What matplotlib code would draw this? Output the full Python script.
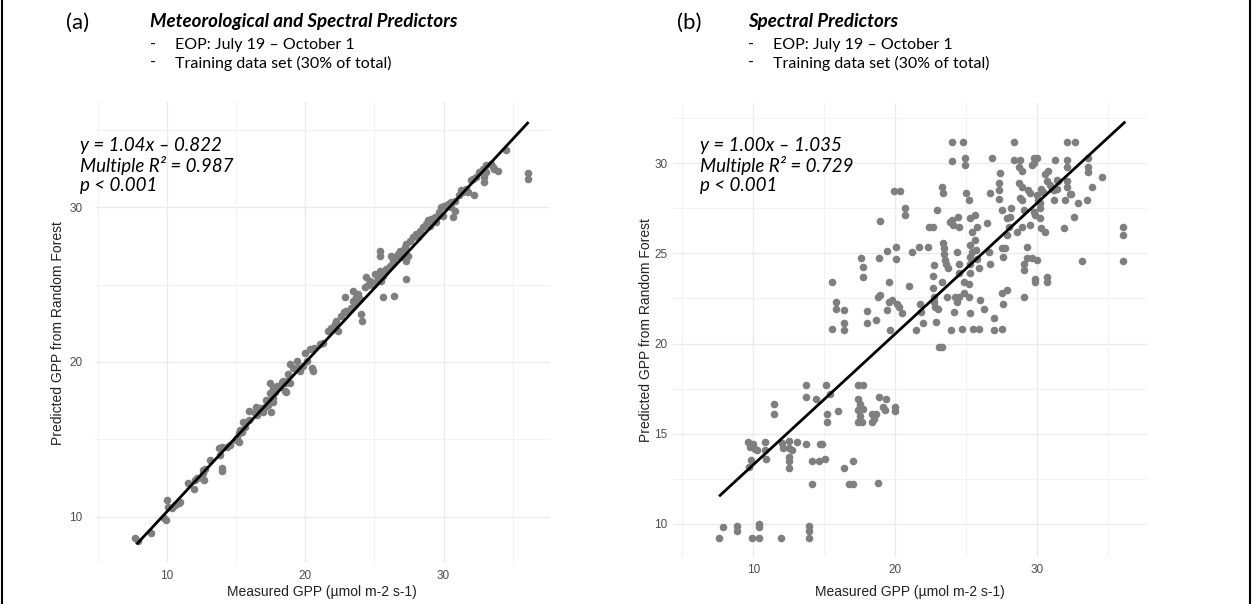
import matplotlib
matplotlib.use('Agg')
import matplotlib.pyplot as plt
from matplotlib.lines import Line2D

W, H = 1252, 604

# (a) meteorological + spectral predictors, training set
meas_a = [7.67, 7.88, 8.87, 9.76, 9.95, 10.0, 10.1, 10.36, 10.6, 10.84, 10.96,
          11.5, 12.0, 12.16, 11.97, 12.52, 12.6, 12.64, 12.76, 12.7,
          13.13, 13.73, 13.85, 13.97, 13.97, 13.97, 14.33, 14.57,
          15.0, 15.1, 15.2, 15.3, 15.4, 15.2, 15.5, 15.65, 15.96, 15.9,
          16.37, 16.49, 16.44, 16.73, 16.97, 17.09, 17.33,
          17.2, 17.45, 17.57, 17.69, 17.81, 17.5, 17.69, 17.93, 18.17,
          18.3, 18.53, 18.65, 18.6, 18.9,
          17.45, 17.69, 17.57, 17.93, 18.41, 18.65, 18.53,
          18.77, 18.9, 19.13, 19.38, 19.5, 19.62, 19.86, 20.1, 20.46, 20.53,
          19.98, 20.34, 20.63, 21.06, 21.3,
          21.66, 21.9, 22.14, 22.26, 22.38,
          22.62, 22.79, 22.98, 22.86, 23.34, 23.46, 23.58,
          23.46, 23.7, 23.94, 24.06, 24.14, 23.82,
          24.3, 24.54, 24.66, 24.42, 24.9, 25.14,
          25.02, 25.26, 25.5, 25.38, 25.62, 25.74,
          25.38, 25.38, 25.62, 26.4,
          25.86, 26.1, 26.35, 26.23, 26.47, 26.7, 26.83, 26.95, 27.07,
          27.19, 27.3, 27.55, 27.3, 27.26, 27.43,
          27.79, 28.03, 28.27, 28.15, 28.5, 28.75,
          28.87, 29.1, 28.99, 29.35, 29.47, 29.6, 29.7,
          29.83, 30.07, 30.31, 30.55, 30.8, 29.95, 30.67, 30.8, 30.55,
          31.15, 31.4, 31.27, 31.63, 31.75, 32.23,
          32.0, 32.36, 32.1, 32.6, 32.84, 32.96, 33.08, 32.96,
          33.08, 33.44, 33.56, 33.68, 33.92, 34.52, 36.08, 36.08]
pred_a = [8.6, 8.43, 8.97, 9.9, 9.78, 11.08, 10.65, 10.54, 10.75, 10.9, 10.97,
          12.16, 12.37, 12.48, 11.77, 12.48, 13.0, 12.8, 13.1, 12.37,
          13.66, 14.42, 13.99, 14.53, 12.97, 13.12, 14.53, 14.63,
          14.96, 15.06, 15.39, 15.6, 15.5, 14.85, 16.14, 15.82, 16.25, 16.8,
          16.68, 16.57, 17.11, 17.0, 16.79, 17.11, 17.22,
          17.54, 17.97, 17.76, 17.43, 18.08, 16.79, 17.65, 18.3, 18.4,
          18.73, 18.62, 18.73, 18.08, 18.62,
          18.66, 18.34, 17.9, 18.45, 18.77, 18.77, 18.12,
          19.2, 19.85, 19.63, 20.07, 19.63, 19.42, 19.74, 20.07, 19.63, 19.42,
          20.6, 20.82, 20.93, 21.15, 21.25,
          22.0, 22.2, 22.44, 22.66, 22.0,
          22.98, 23.2, 23.3, 24.17, 23.5, 23.95, 23.74,
          24.6, 24.17, 24.06, 23.1, 22.66, 24.4,
          24.82, 25.0, 25.24, 25.46, 25.0, 25.14,
          25.68, 25.46, 25.24, 25.9, 25.57, 25.8,
          27.2, 26.87, 24.17, 24.28,
          26.0, 26.22, 26.55, 26.87, 26.76, 26.98, 27.2, 26.76, 27.1,
          27.41, 27.62, 27.84, 26.54, 25.36, 26.87,
          28.06, 28.27, 28.49, 28.06, 28.7, 28.92,
          29.14, 29.24, 28.81, 29.35, 29.03, 29.46, 29.68,
          30.0, 30.1, 30.2, 30.32, 30.43, 29.46, 29.35, 29.78, 30.0,
          30.76, 30.97, 31.08, 31.19, 30.97, 30.76,
          31.73, 31.94, 31.84, 32.27, 32.48, 31.94, 32.27, 31.62,
          32.7, 32.8, 32.6, 32.48, 32.37, 33.67, 32.2, 31.8]

# (b) spectral predictors only, training set
meas_b = [15.53, 15.84, 15.84, 16.4, 15.53, 16.4, 16.4,
          17.58, 17.72, 17.72, 18.0, 18.0, 18.66, 18.8, 18.9,
          18.94, 18.87, 19.4, 19.58, 19.4, 19.53, 19.8, 19.65,
          19.93, 20.35, 20.07, 20.07, 20.1, 20.3, 20.47,
          20.7, 20.7, 21.0, 21.18, 21.5, 21.7, 22.3,
          21.75, 21.8, 21.95, 22.35, 22.66, 22.7, 22.7,
          22.75, 22.75, 22.82, 22.9, 22.94, 22.75, 23.0,
          23.06, 23.3, 23.3, 23.37, 23.3, 23.4, 23.45, 23.45,
          23.5, 23.6, 23.7, 23.65, 23.84, 24.0, 24.07,
          24.0, 24.0, 23.93, 24.12, 24.24, 24.35, 24.47,
          24.35, 24.47, 24.47, 24.47, 24.4, 24.7,
          24.78, 24.94, 24.94, 24.82, 25.0, 25.18, 24.87, 25.18,
          25.3, 25.5, 25.88, 25.25, 25.3, 25.3, 25.4, 25.18,
          25.25, 25.25, 25.65, 25.4, 25.76, 25.65, 25.7, 25.76,
          25.88, 26.0, 26.23, 26.47, 26.6, 26.7, 26.7, 26.8,
          26.94, 26.98, 27.5, 27.3, 27.3, 27.3, 27.4, 27.5,
          27.5, 27.76, 27.6, 27.5, 27.6, 27.9, 27.9, 28.1,
          27.9, 28.0, 28.2, 28.35, 28.35, 28.8, 28.7, 28.94,
          28.7, 28.94, 28.8, 28.94, 28.6, 28.94, 29.06,
          29.3, 29.65, 30.0, 29.06, 29.06, 29.06, 29.3,
          29.4, 29.5, 29.65, 29.76, 29.76, 30.0, 29.5, 29.76, 29.88,
          30.0, 30.1, 30.2, 30.2, 30.3, 30.4, 30.3, 30.6,
          29.88, 29.88, 30.7, 30.7, 30.2, 30.6, 30.8,
          30.7, 30.94, 31.06, 31.2, 31.4, 31.2, 31.3, 31.4, 31.5,
          31.9, 32.0, 32.1, 32.7, 32.1, 32.1, 32.1, 32.1, 32.3, 32.4,
          32.6, 32.9, 33.2, 33.6, 33.6, 33.6, 33.5, 33.9, 34.6,
          36.1, 36.1, 36.1,
          7.6, 7.83, 8.82, 8.82, 9.88, 10.42, 10.42, 10.42, 11.93,
          13.93, 13.93, 13.93, 9.65, 10.0, 9.76, 10.12, 10.28,
          9.84, 9.72, 10.82, 10.82, 10.9, 11.48, 11.48, 12.0,
          12.07, 12.52, 12.54, 12.7, 12.54, 12.54, 12.54, 13.06,
          13.7, 13.7, 13.7, 14.12, 14.12, 14.42, 14.64, 14.7,
          14.82, 15.06, 15.1, 15.18, 15.18, 15.41, 16.0, 16.42,
          16.75, 17.06, 17.06, 17.36, 17.72, 17.4, 17.53, 17.4,
          17.53, 17.4, 17.65, 17.53, 17.72, 18.4, 18.54, 18.4,
          18.66, 18.82, 18.87, 19.13, 19.3, 19.36, 20.0, 20.0]
pred_b = [23.43, 22.31, 21.94, 21.85, 20.83, 20.74, 21.15,
          24.72, 24.26, 23.7, 21.8, 21.15, 21.33, 22.6, 22.7,
          26.8, 24.72, 25.15, 23.43, 21.85, 22.31, 22.4, 20.74,
          28.48, 28.48, 25.33, 24.67, 22.2, 22.0, 21.67,
          27.5, 27.13, 23.19, 25.1, 20.74, 25.37, 25.37,
          22.2, 21.76, 21.15, 26.48, 26.48, 23.74, 23.06,
          22.6, 22.3, 22.0, 21.2, 27.4, 24.35, 21.94,
          19.81, 19.81, 28.7, 28.33, 23.43, 25.56, 25.28, 24.96,
          24.63, 24.44, 24.17, 22.6, 26.76, 26.85, 26.57,
          31.2, 30.13, 20.74, 21.76, 22.6, 22.3, 22.6,
          25.1, 24.44, 23.9, 26.48, 27.0, 20.8,
          31.2, 30.3, 29.9, 23.43, 28.33, 27.96, 22.8, 22.6,
          21.67, 20.83, 20.83, 24.44, 24.8, 25.46, 25.1, 23.33,
          23.9, 26.94, 27.13, 26.2, 26.48, 25.74, 25.19, 24.7,
          24.17, 22.4, 21.94, 26.67, 25.1, 24.44, 28.33, 30.3,
          21.4, 20.74, 20.78, 28.0, 28.9, 28.5, 29.44, 27.4,
          25.28, 25.28, 24.8, 22.78, 22.2, 22.96, 26.94, 27.04,
          26.0, 26.48, 27.5, 31.2, 30.2, 30.2, 29.8, 29.6,
          28.9, 28.7, 28.05, 27.96, 26.2, 26.48, 27.4,
          24.72, 24.72, 24.63, 24.44, 24.07, 22.6, 25.37,
          28.5, 28.33, 29.9, 30.0, 30.3, 30.3, 26.57, 27.31, 27.13,
          28.24, 27.96, 27.78, 27.5, 28.6, 28.4, 26.4, 26.2,
          23.6, 23.43, 23.7, 23.43, 26.94, 29.4, 29.6,
          29.0, 28.8, 28.6, 28.5, 28.6, 27.96, 30.2, 29.1, 29.0,
          26.4, 27.96, 31.2, 31.2, 30.2, 29.8, 29.0, 28.7, 28.3, 28.3,
          27.04, 27.78, 24.57, 30.3, 29.8, 29.5, 27.96, 28.7, 29.26,
          26.48, 26.0, 24.57,
          9.2, 9.81, 9.85, 9.6, 9.2, 9.2, 9.96, 9.81, 9.2,
          9.85, 9.6, 9.2, 14.54, 14.44, 14.26, 14.17, 14.1,
          13.52, 13.15, 14.54, 14.1, 13.6, 16.67, 16.07, 14.48,
          14.22, 14.57, 14.2, 14.1, 13.7, 13.48, 13.1, 14.54,
          17.69, 17.04, 14.4, 13.48, 12.22, 16.9, 13.48, 14.44,
          14.44, 13.6, 17.69, 16.07, 15.65, 17.19, 16.26, 13.1,
          12.22, 12.22, 13.48, 17.69, 17.69, 16.94, 16.67, 16.3,
          16.0, 15.65, 15.65, 16.48, 16.39, 16.1, 15.83, 15.65,
          16.07, 12.26, 17.04, 16.48, 16.3, 16.9, 16.48, 16.26]

# fitted lines (slope, intercept) and their x span
fit_a = (0.963, 0.69)
span_a = (7.88, 36.08)
fit_b = (0.7257, 6.02)
span_b = (7.65, 36.16)

eq_a = ['y = 1.04x – 0.822', 'Multiple R² = 0.987', 'p < 0.001']
eq_b = ['y = 1.00x – 1.035', 'Multiple R² = 0.729', 'p < 0.001']
bullets = ['EOP: July 19 – October 1', 'Training data set (30% of total)']

HEAD = 'Lato'
AXF = 'Liberation Sans'


def box(l, t, r, b):
    return [l / W, 1 - b / H, (r - l) / W, (b - t) / H]


def fx(x):
    return x / W


def fy(y):
    return 1 - y / H


def style(ax, xmaj, xmin, ymaj, ymin, ypad):
    for s in ax.spines.values():
        s.set_visible(False)
    ax.set_xticks(xmaj)
    ax.set_xticks(xmin, minor=True)
    ax.set_yticks(ymaj)
    ax.set_yticks(ymin, minor=True)
    ax.grid(which='major', color='#ebebeb', lw=1.0)
    ax.grid(which='minor', color='#f2f2f2', lw=0.7)
    ax.set_axisbelow(True)
    ax.tick_params(which='both', length=0)
    ax.tick_params(axis='x', pad=5, labelsize=8.5, labelcolor='#4d4d4d')
    ax.tick_params(axis='y', pad=ypad, labelsize=8.5, labelcolor='#4d4d4d')
    for lab in ax.get_xticklabels() + ax.get_yticklabels():
        lab.set_fontfamily(AXF)


fig = plt.figure(figsize=(W / 100, H / 100), dpi=100)

# panel (a)
ax1 = fig.add_axes(box(95, 102, 550, 563))
ax1.scatter(meas_a, pred_a, s=30, color='#7f7f7f', linewidths=0, zorder=2)
xs = list(span_a)
ax1.plot(xs, [fit_a[0] * x + fit_a[1] for x in xs], color='black', lw=2, zorder=3)
ax1.set_xlim(4.8, 37.7)
ax1.set_ylim(7.0, 36.8)
style(ax1, [10, 20, 30], [5, 15, 25, 35], [10, 20, 30], [15, 25, 35], 9)

# panel (b)
ax2 = fig.add_axes(box(673, 103, 1147, 557))
ax2.scatter(meas_b, pred_b, s=30, color='#7f7f7f', linewidths=0, zorder=2)
xs = list(span_b)
ax2.plot(xs, [fit_b[0] * x + fit_b[1] for x in xs], color='black', lw=2, zorder=3)
ax2.set_xlim(4.33, 37.76)
ax2.set_ylim(8.15, 33.35)
style(ax2, [10, 20, 30], [5, 15, 25, 35], [10, 15, 20, 25, 30],
      [12.5, 17.5, 22.5, 27.5, 32.5], 4)

# axis titles
for cx, ylx, yy in [(322, 58, 333), (910, 646, 330)]:
    fig.text(fx(cx), fy(592), 'Measured GPP (µmol m-2 s-1)', ha='center', va='center',
             fontsize=10, family=AXF, color='#222222')
    fig.text(fx(ylx), fy(yy), 'Predicted GPP from Random Forest', ha='center', va='center',
             rotation=90, fontsize=10, family=AXF, color='#222222')

# headers
fig.text(fx(66), fy(23), '(a)', ha='left', va='center', fontsize=16, family=HEAD)
fig.text(fx(150), fy(22), 'Meteorological and Spectral Predictors', ha='left', va='center',
         fontsize=13.5, family=HEAD, style='italic', weight='bold')
fig.text(fx(677), fy(23), '(b)', ha='left', va='center', fontsize=16, family=HEAD)
fig.text(fx(748), fy(22), 'Spectral Predictors', ha='left', va='center',
         fontsize=13.5, family=HEAD, style='italic', weight='bold')
for x0 in (150, 748):
    for i, b in enumerate(bullets):
        yy = 45 + 18 * i
        fig.text(fx(x0), fy(yy), '-', ha='left', va='center', fontsize=11.5, family=HEAD)
        fig.text(fx(x0 + 25), fy(yy), b, ha='left', va='center', fontsize=11.5, family=HEAD)

# regression text
for x0, lines in [(80, eq_a), (700, eq_b)]:
    for i, s in enumerate(lines):
        fig.text(fx(x0), fy(146 + 19.5 * i), s, ha='left', va='center', fontsize=13.5,
                 family=HEAD, style='italic')

# frame lines at the left and right edges
fig.add_artist(Line2D([0.0012, 0.0012], [0, 1], color='black', lw=1.5))
fig.add_artist(Line2D([0.9988, 0.9988], [0, 1], color='black', lw=1.5))

fig.savefig('out.png', dpi=100)
